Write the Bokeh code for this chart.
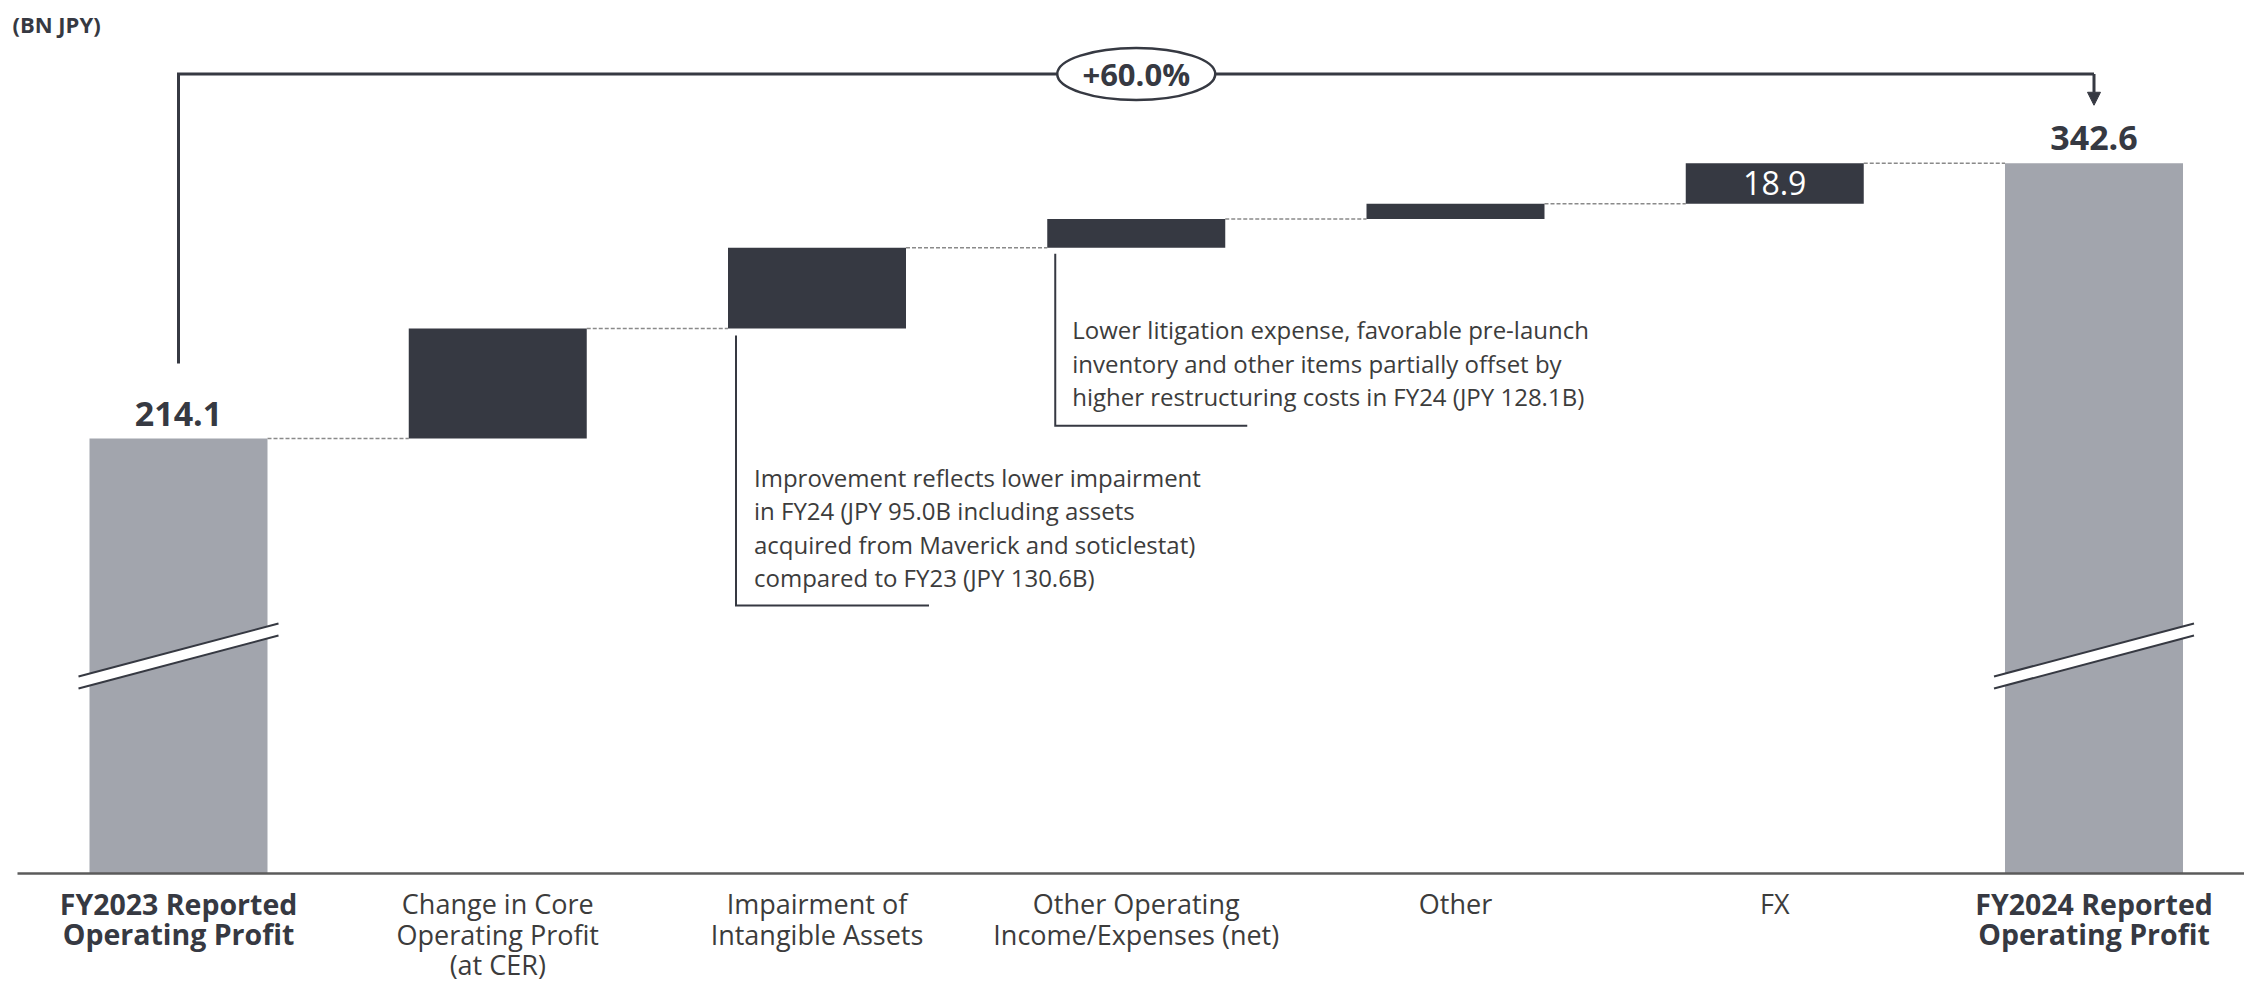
from bokeh.plotting import figure
from bokeh.models import Arrow, NormalHead, Range1d
from bokeh.embed import file_html
from bokeh.resources import INLINE
from bokeh.core.properties import value

# ---------------- data ----------------
categories = [
    "FY2023 Reported\nOperating Profit",
    "Change in Core\nOperating Profit\n(at CER)",
    "Impairment of\nIntangible Assets",
    "Other Operating\nIncome/Expenses (net)",
    "Other",
    "FX",
    "FY2024 Reported\nOperating Profit",
]
start_total = 214.1
end_total = 342.6
deltas = [51.4, 37.7, 13.4, 7.1, 18.9]
delta_labels = ["", "", "", "", "18.9"]
pct_change = "+60.0%"
unit_label = "(BN JPY)"
note_impairment = [
    "Improvement reflects lower impairment",
    "in FY24 (JPY 95.0B including assets",
    "acquired from Maverick and soticlestat)",
    "compared to FY23 (JPY 130.6B)",
]
note_other_op = [
    "Lower litigation expense, favorable pre-launch",
    "inventory and other items partially offset by",
    "higher restructuring costs in FY24 (JPY 128.1B)",
]

# ---------------- layout / style ----------------
W, H = 2244, 982
PXU = 319.25          # px per category step
PYU = 2.142           # px per BN JPY
BASE = 11.0           # broken-axis baseline value
BAR_W = 178 / PXU
X0 = -178 / PXU
X1 = X0 + W / PXU
Y1 = start_total + 438 / PYU
Y0 = Y1 - H / PYU

def dx(px):
    return px / PXU

def dy(px):
    return px / PYU

GRAY = "#A2A5AD"
DARK = "#363942"
TXT = "#3C3C3C"
DASH = "#8A8A8A"
FONT = value("Open Sans")

p = figure(width=W, height=H, x_range=Range1d(X0, X1), y_range=Range1d(Y0, Y1),
           output_backend="svg", toolbar_location=None, min_border=0)
p.axis.visible = False
p.grid.visible = False
p.outline_line_color = None
p.background_fill_color = "white"
p.border_fill_color = "white"

n = len(categories)
xs = list(range(n))

# running totals
bottoms, tops, colors = [BASE], [start_total], [GRAY]
run = start_total
for d in deltas:
    bottoms.append(run)
    run = run + d
    tops.append(run)
    colors.append(DARK)
bottoms.append(BASE)
tops.append(end_total)
colors.append(GRAY)

# dashed connectors
for i in range(n - 1):
    level = tops[i]
    p.line([xs[i] + BAR_W / 2, xs[i + 1] - BAR_W / 2], [level, level],
           line_color=DASH, line_width=1.5, line_dash="4 2")

p.quad(left=[x - BAR_W / 2 for x in xs], right=[x + BAR_W / 2 for x in xs],
       bottom=bottoms, top=tops, fill_color=colors, line_color=None)

# axis line
p.line([X0 + dx(17), X1], [BASE, BASE], line_color="#5B5B5B", line_width=2.5)

# break marks on total bars
brk_c = start_total - dy(655.5 - 438)
half = dx(100)
slope = dy(26.5)
gap = dy(6)
for i in (0, n - 1):
    cx = xs[i]
    p.patch([cx - half, cx + half, cx + half, cx - half],
            [brk_c + gap - slope, brk_c + gap + slope, brk_c - gap + slope, brk_c - gap - slope],
            fill_color="white", line_color=None)
    for s in (gap, -gap):
        p.line([cx - half, cx + half], [brk_c + s - slope, brk_c + s + slope],
               line_color=DARK, line_width=2)

# total value labels
p.text(x=[xs[0], xs[-1]], y=[tops[0], tops[-1]],
       text=[f"{start_total:.1f}", f"{end_total:.1f}"],
       text_font=FONT, text_font_style="bold", text_font_size="34px",
       text_color=DARK, text_align="center", text_baseline="middle", y_offset=-25)

# delta labels (inside bars)
for k, lab in enumerate(delta_labels):
    if lab:
        i = k + 1
        p.text(x=[xs[i]], y=[(bottoms[i] + tops[i]) / 2], text=[lab],
               text_font=FONT, text_font_size="32px", text_color="white",
               text_align="center", text_baseline="middle")

# category labels
for i, cat in enumerate(categories):
    bold = i in (0, n - 1)
    for r, line in enumerate(cat.split("\n")):
        p.text(x=[xs[i]], y=[BASE], text=[line], text_font=FONT,
               text_font_style="bold" if bold else "normal",
               text_font_size="28.5px" if bold else "27px",
               text_color=DARK if bold else TXT,
               text_align="center", text_baseline="middle",
               y_offset=30 + 30.5 * r)

# unit label
p.text(x=[X0 + dx(12)], y=[Y1 - dy(23)], text=[unit_label], text_font=FONT,
       text_font_style="bold", text_font_size="22px", text_color=DARK,
       text_align="left", text_baseline="middle")

# growth bracket
br_y = start_total + dy(438 - 73.5)
p.line([xs[0], xs[0], xs[-1]], [start_total + dy(75), br_y, br_y],
       line_color=DARK, line_width=3, line_join="miter")
p.add_layout(Arrow(end=NormalHead(size=13, fill_color=DARK, line_color=DARK),
                   x_start=xs[-1], y_start=br_y, x_end=xs[-1], y_end=end_total + dy(58),
                   line_color=DARK, line_width=3))
p.ellipse(x=[xs[3]], y=[br_y], width=158, height=52, width_units="screen",
          height_units="screen", fill_color="white", line_color=DARK, line_width=2.5)
p.text(x=[xs[3]], y=[br_y], text=[pct_change], text_font=FONT,
       text_font_style="bold", text_font_size="31px", text_color=DARK,
       text_align="center", text_baseline="middle")

# annotation callouts
def callout(i, lines, top_gap, length, width, text_dx, first_row, row_h):
    ax = xs[i] - BAR_W / 2 + dx(8)
    ytop = bottoms[i] - dy(top_gap)
    ybot = ytop - dy(length)
    p.line([ax, ax, ax + dx(width)], [ytop, ybot, ybot], line_color=DARK,
           line_width=2, line_join="miter")
    for r, t in enumerate(lines):
        p.text(x=[ax + dx(text_dx)], y=[ytop - dy(first_row + row_h * r)], text=[t],
               text_font=FONT, text_font_size="24px", text_color=TXT,
               text_align="left", text_baseline="middle")

callout(2, note_impairment, 7, 270, 193, 18, 142, 33.5)
callout(3, note_other_op, 6, 172, 192, 17, 76, 33.5)

open("out.html", "w").write(file_html(p, INLINE))
